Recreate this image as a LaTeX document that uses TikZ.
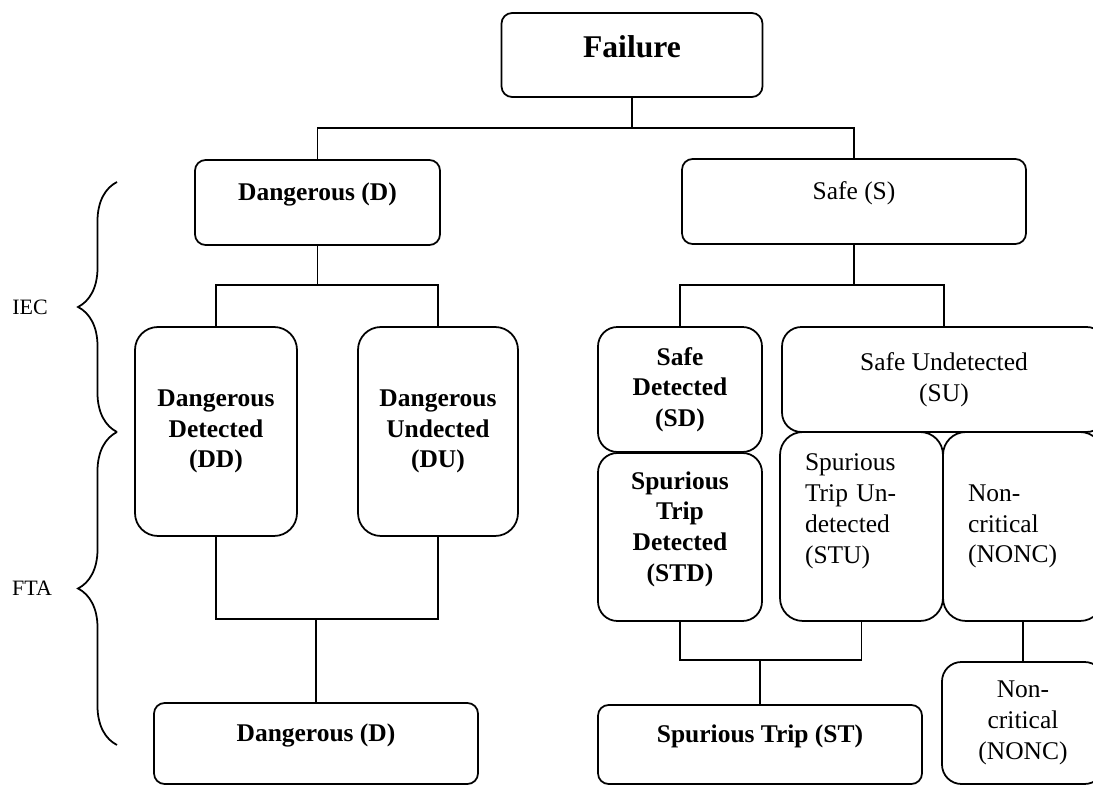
\documentclass[tikz,border=0pt]{standalone}
\usepackage{fontspec}
\setmainfont{Liberation Serif}
\usetikzlibrary{decorations.pathreplacing}

\tikzset{
  box/.style={draw, line width=1pt, rounded corners=6pt, align=center, inner sep=2pt},
  roundbox/.style={box, rounded corners=13pt},
  onetop/.style={text height=10pt, text depth=12pt},
  leftbox/.style={roundbox, align=left, inner xsep=0.5cm},
  bf/.style={font=\fontsize{14.5}{17.5}\selectfont\bfseries},
  wire/.style={line width=0.9pt},
  lbrace/.style={decorate, decoration={brace, amplitude=0.78cm}, line width=1pt},
  side/.style={font=\fontsize{12.5}{15}\selectfont},
}

\begin{document}
\begin{tikzpicture}[x=0.02cm, y=-0.02cm, font=\fontsize{14.5}{17.5}\selectfont]
\useasboundingbox (0,0) rectangle (1093,786);
\clip (0,0) rectangle (1093,786);
% top levels
\node[box, text height=13pt, text depth=10pt, minimum width=5.22cm, minimum height=1.68cm, font=\fontsize{18}{21}\selectfont\bfseries] (fail) at (632,55) {Failure};
\node[box, onetop, bf, minimum width=4.9cm, minimum height=1.7cm] (dang) at (317.5,202.5) {Dangerous (D)};
\node[box, onetop, minimum width=6.88cm, minimum height=1.7cm] (safe) at (854,201.5) {Safe (S)};
% dangerous branch
\node[roundbox, bf, minimum width=3.24cm, minimum height=4.18cm] (dd) at (216,431.5) {Dangerous\\Detected\\(DD)};
\node[roundbox, bf, minimum width=3.2cm, minimum height=4.18cm] (du) at (438,431.5) {Dangerous\\Undected\\(DU)};
\node[box, onetop, bf, minimum width=6.48cm, minimum height=1.62cm] (dbot) at (316,743.5) {Dangerous (D)};
% safe branch
\node[roundbox, bf, rounded corners=11pt, minimum width=3.28cm, minimum height=2.5cm] (sd) at (680,389.5) {Safe\\Detected\\(SD)};
\node[roundbox, rounded corners=11pt, minimum width=6.48cm, minimum height=2.1cm] (su) at (944,379.5) {Safe Undetected\\(SU)};
\node[roundbox, bf, rounded corners=11pt, minimum width=3.28cm, minimum height=3.36cm, text depth=12pt] (std) at (680,537) {Spurious\\Trip\\Detected\\(STD)};
\node[leftbox, text width=2.26cm, minimum width=3.26cm, minimum height=3.78cm, text depth=73pt] (stu) at (861.5,526.5) {Spurious\\Trip Un-\\detected\\(STU)};
\node[leftbox, text width=2.2cm, minimum width=3.2cm, minimum height=3.78cm] (nonc) at (1023,526.5) {Non-\\critical\\(NONC)};
\node[box, onetop, bf, minimum width=6.48cm, minimum height=1.58cm] (st) at (760,744.5) {Spurious Trip (ST)};
\node[roundbox, rounded corners=11pt, minimum width=3.24cm, minimum height=2.44cm] (noncb) at (1023,723) {Non-\\critical\\(NONC)};
% connectors
\coordinate (j0) at (632,128);
\draw[wire] (fail) -- (j0);
\draw[wire] (dang.north) |- (j0) -| (safe.north);
\coordinate (j1) at (317.5,285);
\draw[wire] (dang) -- (j1);
\draw[wire] (dd.north) |- (j1) -| (du.north);
\coordinate (j2) at (854,285);
\draw[wire] (safe) -- (j2);
\draw[wire] (sd.north) |- (j2) -| (su.north);
\coordinate (j3) at (316,619);
\draw[wire] (dd.south) |- (j3) -| (du.south);
\draw[wire] (j3) -- (dbot);
\coordinate (j4) at (760,660);
\draw[wire] (std.south) |- (j4) -| (stu.south);
\draw[wire] (j4) -- (st);
\draw[wire] (nonc) -- (noncb);
% braces
\draw[lbrace] (117,432) -- (117,182);
\draw[lbrace] (117,745) -- (117,432);
\node[side] (iec) at (30,307) {IEC};
\node[side] (fta) at (32,588) {FTA};
\end{tikzpicture}
\end{document}
